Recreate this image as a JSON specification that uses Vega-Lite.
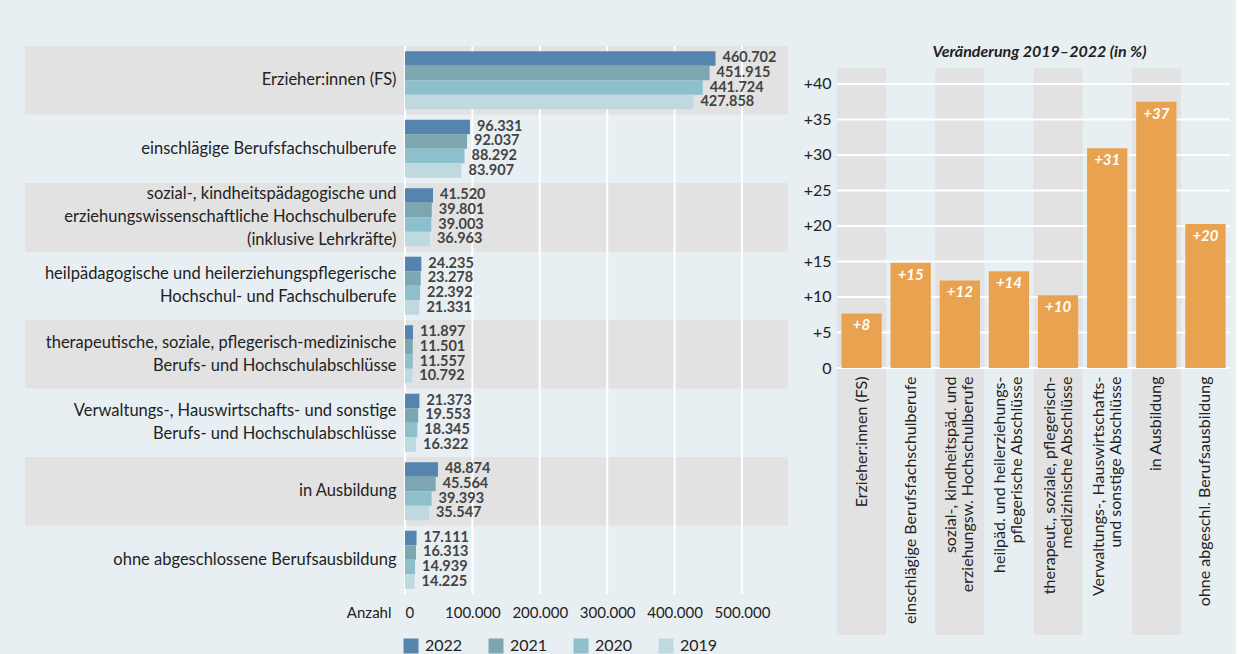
{
  "$schema": "https://vega.github.io/schema/vega-lite/v6.json",
  "background": "#e8eff3",
  "padding": {"left": 24, "top": 44, "right": 5, "bottom": 0},
  "spacing": 15,
  "config": {
    "font": "Lato",
    "view": {"stroke": null},
    "locale": {"number": {"decimal": ",", "thousands": ".", "grouping": [3], "currency": ["", " €"]}},
    "axis": {"labelColor": "#222", "titleColor": "#222", "domain": false, "ticks": false, "grid": false, "title": null, "labelOverlap": false}
  },
  "datasets": {
    "counts": [
      {"cat": "Erzieher:innen (FS)", "nr": 1, "year": "2022", "value": 460702},
      {"cat": "Erzieher:innen (FS)", "nr": 1, "year": "2021", "value": 451915},
      {"cat": "Erzieher:innen (FS)", "nr": 1, "year": "2020", "value": 441724},
      {"cat": "Erzieher:innen (FS)", "nr": 1, "year": "2019", "value": 427858},
      {"cat": "einschlägige Berufsfachschulberufe", "nr": 2, "year": "2022", "value": 96331},
      {"cat": "einschlägige Berufsfachschulberufe", "nr": 2, "year": "2021", "value": 92037},
      {"cat": "einschlägige Berufsfachschulberufe", "nr": 2, "year": "2020", "value": 88292},
      {"cat": "einschlägige Berufsfachschulberufe", "nr": 2, "year": "2019", "value": 83907},
      {"cat": "sozial-, kindheitspädagogische und|erziehungswissenschaftliche Hochschulberufe|(inklusive Lehrkräfte)", "nr": 3, "year": "2022", "value": 41520},
      {"cat": "sozial-, kindheitspädagogische und|erziehungswissenschaftliche Hochschulberufe|(inklusive Lehrkräfte)", "nr": 3, "year": "2021", "value": 39801},
      {"cat": "sozial-, kindheitspädagogische und|erziehungswissenschaftliche Hochschulberufe|(inklusive Lehrkräfte)", "nr": 3, "year": "2020", "value": 39003},
      {"cat": "sozial-, kindheitspädagogische und|erziehungswissenschaftliche Hochschulberufe|(inklusive Lehrkräfte)", "nr": 3, "year": "2019", "value": 36963},
      {"cat": "heilpädagogische und heilerziehungspflegerische|Hochschul- und Fachschulberufe", "nr": 4, "year": "2022", "value": 24235},
      {"cat": "heilpädagogische und heilerziehungspflegerische|Hochschul- und Fachschulberufe", "nr": 4, "year": "2021", "value": 23278},
      {"cat": "heilpädagogische und heilerziehungspflegerische|Hochschul- und Fachschulberufe", "nr": 4, "year": "2020", "value": 22392},
      {"cat": "heilpädagogische und heilerziehungspflegerische|Hochschul- und Fachschulberufe", "nr": 4, "year": "2019", "value": 21331},
      {"cat": "therapeutische, soziale, pflegerisch-medizinische|Berufs- und Hochschulabschlüsse", "nr": 5, "year": "2022", "value": 11897},
      {"cat": "therapeutische, soziale, pflegerisch-medizinische|Berufs- und Hochschulabschlüsse", "nr": 5, "year": "2021", "value": 11501},
      {"cat": "therapeutische, soziale, pflegerisch-medizinische|Berufs- und Hochschulabschlüsse", "nr": 5, "year": "2020", "value": 11557},
      {"cat": "therapeutische, soziale, pflegerisch-medizinische|Berufs- und Hochschulabschlüsse", "nr": 5, "year": "2019", "value": 10792},
      {"cat": "Verwaltungs-, Hauswirtschafts- und sonstige|Berufs- und Hochschulabschlüsse", "nr": 6, "year": "2022", "value": 21373},
      {"cat": "Verwaltungs-, Hauswirtschafts- und sonstige|Berufs- und Hochschulabschlüsse", "nr": 6, "year": "2021", "value": 19553},
      {"cat": "Verwaltungs-, Hauswirtschafts- und sonstige|Berufs- und Hochschulabschlüsse", "nr": 6, "year": "2020", "value": 18345},
      {"cat": "Verwaltungs-, Hauswirtschafts- und sonstige|Berufs- und Hochschulabschlüsse", "nr": 6, "year": "2019", "value": 16322},
      {"cat": "in Ausbildung", "nr": 7, "year": "2022", "value": 48874},
      {"cat": "in Ausbildung", "nr": 7, "year": "2021", "value": 45564},
      {"cat": "in Ausbildung", "nr": 7, "year": "2020", "value": 39393},
      {"cat": "in Ausbildung", "nr": 7, "year": "2019", "value": 35547},
      {"cat": "ohne abgeschlossene Berufsausbildung", "nr": 8, "year": "2022", "value": 17111},
      {"cat": "ohne abgeschlossene Berufsausbildung", "nr": 8, "year": "2021", "value": 16313},
      {"cat": "ohne abgeschlossene Berufsausbildung", "nr": 8, "year": "2020", "value": 14939},
      {"cat": "ohne abgeschlossene Berufsausbildung", "nr": 8, "year": "2019", "value": 14225}
    ],
    "xticks": [{"v": 0}, {"v": 100000}, {"v": 200000}, {"v": 300000}, {"v": 400000}, {"v": 500000}],
    "change": [
      {"cat": "Erzieher:innen (FS)", "nr": 1, "pct": 7.68},
      {"cat": "einschlägige Berufsfachschulberufe", "nr": 2, "pct": 14.81},
      {"cat": "sozial-, kindheitspäd. und|erziehungsw. Hochschulberufe", "nr": 3, "pct": 12.33},
      {"cat": "heilpäd. und heilerziehungs-|pflegerische Abschlüsse", "nr": 4, "pct": 13.61},
      {"cat": "therapeut., soziale, pflegerisch-|medizinische Abschlüsse", "nr": 5, "pct": 10.24},
      {"cat": "Verwaltungs-, Hauswirtschafts-|und sonstige Abschlüsse", "nr": 6, "pct": 30.94},
      {"cat": "in Ausbildung", "nr": 7, "pct": 37.49},
      {"cat": "ohne abgeschl. Berufsausbildung", "nr": 8, "pct": 20.29}
    ],
    "yticks": [{"v": 0}, {"v": 5}, {"v": 10}, {"v": 15}, {"v": 20}, {"v": 25}, {"v": 30}, {"v": 35}, {"v": 40}]
  },
  "hconcat": [
    {
      "width": 383,
      "height": 548,
      "layer": [
        {
          "data": {"name": "counts"},
          "transform": [{"filter": "datum.year == '2022' && datum.nr % 2 == 1"}],
          "mark": {"type": "rect", "color": "#e2e2e2"},
          "encoding": {
            "y": {
              "field": "cat", "type": "nominal",
              "scale": {"domain": [
                "Erzieher:innen (FS)",
                "einschlägige Berufsfachschulberufe",
                "sozial-, kindheitspädagogische und|erziehungswissenschaftliche Hochschulberufe|(inklusive Lehrkräfte)",
                "heilpädagogische und heilerziehungspflegerische|Hochschul- und Fachschulberufe",
                "therapeutische, soziale, pflegerisch-medizinische|Berufs- und Hochschulabschlüsse",
                "Verwaltungs-, Hauswirtschafts- und sonstige|Berufs- und Hochschulabschlüsse",
                "in Ausbildung",
                "ohne abgeschlossene Berufsausbildung"
              ], "paddingInner": 0, "paddingOuter": 0},
              "axis": {
                "labelExpr": "split(datum.label, '|')", "labelFontSize": 16.5, "labelLineHeight": 23, "labelPadding": 9, "labelLimit": 0, "zindex": 1, "labelAlign": "right", "labelBaseline": "middle",
                "labelOffset": {"condition": [
                  {"test": "length(split(datum.value, '|')) == 3", "value": -23},
                  {"test": "length(split(datum.value, '|')) == 2", "value": -11.5}
                ], "value": 0}
              }
            },
            "x": {
              "datum": -563800, "type": "quantitative",
              "scale": {"domain": [0, 568250], "nice": false, "zero": false},
              "axis": {"values": [0, 100000, 200000, 300000, 400000, 500000], "format": ",d", "labelFontSize": 15, "labelPadding": 11, "labelBaseline": "top",
                "title": "Anzahl", "titleFontSize": 15, "titleFontWeight": "normal", "titleAlign": "right", "titleAnchor": "start", "titleX": -14, "titleY": 11, "titleBaseline": "top", "titleAngle": 0}
            },
            "x2": {"datum": 568250}
          }
        },
        {
          "data": {"name": "xticks"},
          "mark": {"type": "rule", "color": "#ffffff", "strokeWidth": 2},
          "encoding": {"x": {"field": "v", "type": "quantitative"}}
        },
        {
          "data": {"name": "counts"},
          "mark": {"type": "bar"},
          "encoding": {
            "y": {"field": "cat", "type": "nominal"},
            "yOffset": {"field": "year", "type": "nominal", "scale": {"domain": ["2022", "2021", "2020", "2019"], "paddingInner": 0, "paddingOuter": 0.36}},
            "x": {"field": "value", "type": "quantitative"},
            "color": {
              "field": "year", "type": "nominal",
              "scale": {"domain": ["2022", "2021", "2020", "2019"], "range": ["#5585ae", "#7da7b0", "#8dbfcc", "#bfd9e0"]},
              "legend": {
                "title": null, "orient": "none", "legendX": -2, "legendY": 592,
                "direction": "horizontal", "symbolType": "square", "symbolSize": 225,
                "symbolStrokeWidth": 0, "symbolOpacity": 1, "labelFontSize": 16, "labelColor": "#222",
                "columnPadding": 25, "labelOffset": 6
              }
            }
          }
        },
        {
          "data": {"name": "counts"},
          "mark": {"type": "text", "align": "left", "baseline": "middle", "dx": 7, "fontSize": 14.5, "fontWeight": "bold", "color": "#444"},
          "encoding": {
            "y": {"field": "cat", "type": "nominal"},
            "yOffset": {"field": "year", "type": "nominal"},
            "x": {"field": "value", "type": "quantitative"},
            "text": {"field": "value", "type": "quantitative", "format": ",d"}
          }
        }
      ]
    },
    {
      "width": 393,
      "height": 322,
      "title": {"text": "Veränderung 2019–2022 (in %)", "fontSize": 16, "fontWeight": "bold", "fontStyle": "italic", "color": "#222", "anchor": "middle", "offset": -14, "dx": 6},
      "layer": [
        {
          "data": {"name": "change"},
          "transform": [{"filter": "datum.nr % 2 == 1"}],
          "mark": {"type": "rect", "color": "#e2e2e2"},
          "encoding": {
            "x": {
              "field": "cat", "type": "nominal",
              "scale": {"domain": [
                "Erzieher:innen (FS)",
                "einschlägige Berufsfachschulberufe",
                "sozial-, kindheitspäd. und|erziehungsw. Hochschulberufe",
                "heilpäd. und heilerziehungs-|pflegerische Abschlüsse",
                "therapeut., soziale, pflegerisch-|medizinische Abschlüsse",
                "Verwaltungs-, Hauswirtschafts-|und sonstige Abschlüsse",
                "in Ausbildung",
                "ohne abgeschl. Berufsausbildung"
              ], "paddingInner": 0, "paddingOuter": 0},
              "axis": {
                "labelExpr": "split(datum.label, '|')", "labelAngle": -90, "labelAlign": "right", "labelBaseline": "middle", "labelFontSize": 16, "labelLineHeight": 17, "labelPadding": 8, "labelLimit": 0, "zindex": 1,
                "labelOffset": {"condition": {"test": "length(split(datum.value, '|')) == 2", "value": -8.5}, "value": 0}
              }
            },
            "y": {
              "datum": 42.2, "type": "quantitative",
              "scale": {"domain": [0, 45.35], "nice": false, "zero": false},
              "axis": {"values": [0, 5, 10, 15, 20, 25, 30, 35, 40], "labelExpr": "datum.value > 0 ? '+' + datum.value : '0'", "labelFontSize": 16, "labelPadding": 6}
            },
            "y2": {"datum": -37.6}
          }
        },
        {
          "data": {"name": "yticks"},
          "mark": {"type": "rule", "color": "#ffffff", "strokeWidth": 2},
          "encoding": {"y": {"field": "v", "type": "quantitative"}}
        },
        {
          "data": {"name": "change"},
          "mark": {"type": "bar", "color": "#e9a350", "width": {"band": 0.82}},
          "encoding": {
            "x": {"field": "cat", "type": "nominal"},
            "y": {"field": "pct", "type": "quantitative"}
          }
        },
        {
          "data": {"name": "change"},
          "mark": {"type": "text", "color": "#ffffff", "fontSize": 15, "fontWeight": "bold", "fontStyle": "italic", "baseline": "middle", "dy": 12},
          "encoding": {
            "x": {"field": "cat", "type": "nominal"},
            "y": {"field": "pct", "type": "quantitative"},
            "text": {"field": "pct", "type": "quantitative", "format": "+.0f"}
          }
        }
      ]
    }
  ],
  "resolve": {"scale": {"x": "independent", "y": "independent"}}
}
